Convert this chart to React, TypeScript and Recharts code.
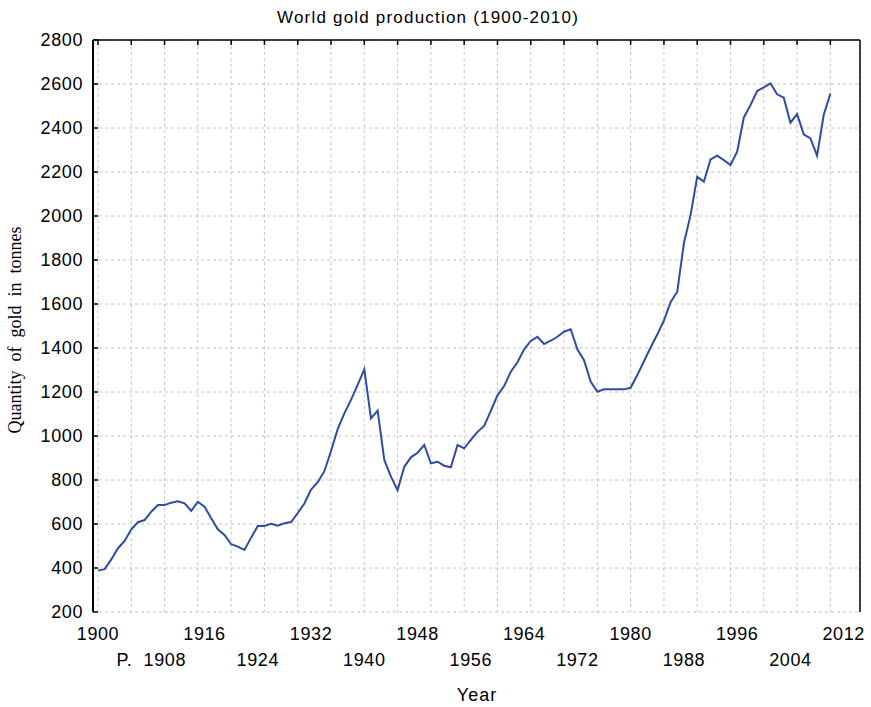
import React from "react";
import { LineChart, Line, XAxis, YAxis, CartesianGrid } from "recharts";

const years = [
  1900, 1901, 1902, 1903, 1904, 1905, 1906, 1907, 1908, 1909,
  1910, 1911, 1912, 1913, 1914, 1915, 1916, 1917, 1918, 1919,
  1920, 1921, 1922, 1923, 1924, 1925, 1926, 1927, 1928, 1929,
  1930, 1931, 1932, 1933, 1934, 1935, 1936, 1937, 1938, 1939,
  1940, 1941, 1942, 1943, 1944, 1945, 1946, 1947, 1948, 1949,
  1950, 1951, 1952, 1953, 1954, 1955, 1956, 1957, 1958, 1959,
  1960, 1961, 1962, 1963, 1964, 1965, 1966, 1967, 1968, 1969,
  1970, 1971, 1972, 1973, 1974, 1975, 1976, 1977, 1978, 1979,
  1980, 1981, 1982, 1983, 1984, 1985, 1986, 1987, 1988, 1989,
  1990, 1991, 1992, 1993, 1994, 1995, 1996, 1997, 1998, 1999,
  2000, 2001, 2002, 2003, 2004, 2005, 2006, 2007, 2008, 2009,
  2010,
];

const production = [
  388, 395, 439, 490, 523, 576, 608, 618, 656, 686,
  686, 697, 703, 694, 660, 701, 679, 626, 576, 550,
  508, 497, 482, 538, 591, 591, 601, 592, 603, 609,
  650, 693, 756, 790, 840, 932, 1031, 1103, 1164, 1232,
  1303, 1080, 1115, 891, 815, 754, 860, 903, 924, 959,
  876, 883, 865, 858, 959, 944, 982, 1019, 1046, 1114,
  1185, 1227, 1292, 1335, 1394, 1432, 1451, 1418, 1433, 1451,
  1474, 1485, 1394, 1345, 1247, 1201, 1212, 1212, 1212, 1212,
  1219, 1277, 1340, 1402, 1461, 1525, 1608, 1656, 1876, 2004,
  2178, 2156, 2257, 2274, 2254, 2232, 2292, 2448, 2504, 2568,
  2585, 2603, 2553, 2538, 2424, 2463, 2371, 2353, 2274, 2459,
  2557,
];

const gridYears = [
  1900, 1905, 1910, 1915, 1920, 1925, 1930, 1935, 1940, 1945, 1950, 1955,
  1960, 1965, 1970, 1975, 1980, 1985, 1990, 1995, 2000, 2005, 2010,
];

const labelYears = [
  1900, 1908, 1916, 1924, 1932, 1940, 1948, 1956, 1964, 1972, 1980, 1988,
  1996, 2004, 2012,
];

const labelTexts = [
  "1900", "P.  1908", "1916", "1924", "1932", "1940", "1948", "1956",
  "1964", "1972", "1980", "1988", "1996", "2004", "2012",
];

const yTicks = [200, 400, 600, 800, 1000, 1200, 1400, 1600, 1800, 2000, 2200, 2400, 2600, 2800];

const data = years.map((y, i) => ({ year: y, value: production[i] }));

const SANS = "'Liberation Sans', Arial, sans-serif";
const SERIF = "'Liberation Serif', 'Times New Roman', serif";
const X_DOMAIN: [number, number] = [1899.25, 2014.45];

const EmptyTick = () => <g />;

const YearLabelTick = (props: any) => {
  const { x, y, payload } = props;
  const idx = labelYears.indexOf(payload.value);
  const text = idx >= 0 ? labelTexts[idx] : String(payload.value);
  const row = idx % 2;
  return (
    <text
      x={x}
      y={y + (row === 0 ? 28 : 54)}
      textAnchor="middle"
      fontFamily={SANS}
      fontSize={18}
      letterSpacing={0.6}
      fill="#000"
      style={{ whiteSpace: "pre" }}
    >
      {text}
    </text>
  );
};

export default function App() {
  return (
    <div style={{ position: "absolute", left: 0, top: 0, background: "#fff" }}>
      <LineChart
        width={871}
        height={707}
        data={data}
        margin={{ top: 39, right: 0, bottom: 0, left: 0 }}
      >
        <text
          x={428}
          y={23}
          textAnchor="middle"
          fontFamily={SANS}
          fontSize={17}
          letterSpacing={1.2}
          fill="#000"
        >
          World gold production (1900-2010)
        </text>
        <text
          x={477}
          y={701}
          textAnchor="middle"
          fontFamily={SANS}
          fontSize={18}
          letterSpacing={1}
          fill="#000"
        >
          Year
        </text>
        <text
          x={21}
          y={330}
          textAnchor="middle"
          fontFamily={SERIF}
          fontSize={18}
          fill="#000"
          transform="rotate(-90 21 330)"
          style={{ whiteSpace: "pre" }}
        >
          {"Quantity  of  gold  in  tonnes"}
        </text>
        <CartesianGrid
          stroke="#c4c4c4"
          strokeDasharray="3 3"
          horizontal={true}
          vertical={true}
        />
        <XAxis
          dataKey="year"
          type="number"
          domain={X_DOMAIN}
          ticks={gridYears}
          interval={0}
          allowDataOverflow
          height={0}
          tick={<EmptyTick />}
          tickSize={-5}
          axisLine={{ stroke: "#000", strokeWidth: 2 }}
          tickLine={{ stroke: "#000", strokeWidth: 1.5 }}
        />
        <XAxis
          xAxisId="lab"
          dataKey="year"
          type="number"
          domain={X_DOMAIN}
          ticks={labelYears}
          allowDataOverflow
          height={95}
          axisLine={false}
          tickLine={false}
          tickSize={0}
          tickMargin={0}
          interval={0}
          tick={<YearLabelTick />}
        />
        <XAxis
          xAxisId="top"
          orientation="top"
          dataKey="year"
          type="number"
          domain={X_DOMAIN}
          ticks={gridYears}
          interval={0}
          allowDataOverflow
          height={1}
          tick={<EmptyTick />}
          tickSize={-5}
          axisLine={{ stroke: "#000", strokeWidth: 1.5 }}
          tickLine={{ stroke: "#000", strokeWidth: 1.5 }}
        />
        <YAxis
          type="number"
          domain={[200, 2800]}
          ticks={yTicks}
          interval={0}
          width={93}
          tickSize={-5}
          tickMargin={15}
          axisLine={{ stroke: "#000", strokeWidth: 2 }}
          tickLine={{ stroke: "#000", strokeWidth: 1.5 }}
          tick={{ fill: "#000", fontFamily: SANS, fontSize: 18, letterSpacing: 0.6 }}
        />
        <YAxis
          yAxisId="r"
          orientation="right"
          type="number"
          domain={[200, 2800]}
          ticks={yTicks}
          interval={0}
          width={11}
          tick={<EmptyTick />}
          tickSize={-5}
          axisLine={{ stroke: "#000", strokeWidth: 1.5 }}
          tickLine={{ stroke: "#000", strokeWidth: 1.5 }}
        />
        <Line
          type="linear"
          dataKey="value"
          stroke="#2f4ca3"
          strokeWidth={2}
          dot={false}
          isAnimationActive={false}
        />
      </LineChart>
    </div>
  );
}
